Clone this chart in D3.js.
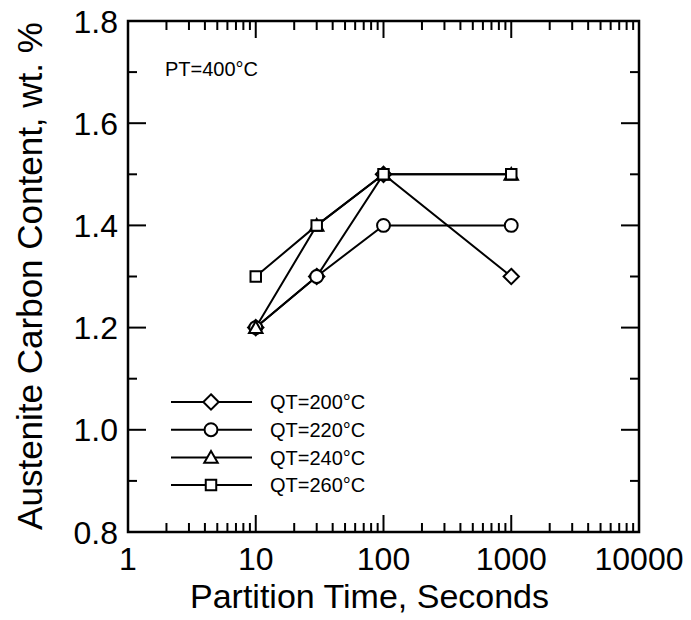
<!DOCTYPE html>
<html>
<head>
<meta charset="utf-8">
<script src="https://cdn.jsdelivr.net/npm/d3@7"></script>
<style>
body { margin: 0; background: #fff; }
text { font-family: Arial, "Liberation Sans", sans-serif; fill: #000; }
</style>
</head>
<body>
<div id="main_div"></div>
<script>
// partition times (s) and austenite carbon content (wt.%)
var times = [10, 30, 100, 1000];
var qt200 = [1.2, 1.3, 1.5, 1.3];
var qt220 = [1.2, 1.3, 1.4, 1.4];
var qt240 = [1.2, 1.4, 1.5, 1.5];
var qt260 = [1.3, 1.4, 1.5, 1.5];
var seriesNames = ["QT=200°C", "QT=220°C", "QT=240°C", "QT=260°C"];
var xTicks = [1, 10, 100, 1000, 10000];
var yTicks = [0.8, 1.0, 1.2, 1.4, 1.6, 1.8];

var series = [
    {name: seriesNames[0], vals: qt200, sym: "diamond"},
    {name: seriesNames[1], vals: qt220, sym: "circle"},
    {name: seriesNames[2], vals: qt240, sym: "triangle"},
    {name: seriesNames[3], vals: qt260, sym: "square"}
];

var L = 128, R = 639, T = 21, B = 532;
var x_scale = d3.scaleLog().domain([1, 10000]).range([L, R]);
var y_scale = d3.scaleLinear().domain([0.8, 1.8]).range([B, T]);

var svg = d3.select("#main_div").append("svg").attr("width", 691).attr("height", 620);

// minor + major ticks, all pointing inward, on all four sides
var xMinor = [];
for (var e = 0; e < 4; e++) for (var k = 2; k <= 9; k++) xMinor.push(k * Math.pow(10, e));
var yMinor = d3.range(0.9, 1.8, 0.2);

var tk = svg.append("g").attr("stroke", "#000").attr("stroke-width", 2);
xTicks.forEach(function(v) {
    tk.append("line").attr("x1", x_scale(v)).attr("x2", x_scale(v)).attr("y1", B).attr("y2", B - 17);
    tk.append("line").attr("x1", x_scale(v)).attr("x2", x_scale(v)).attr("y1", T).attr("y2", T + 17);
});
xMinor.forEach(function(v) {
    tk.append("line").attr("x1", x_scale(v)).attr("x2", x_scale(v)).attr("y1", B).attr("y2", B - 9);
    tk.append("line").attr("x1", x_scale(v)).attr("x2", x_scale(v)).attr("y1", T).attr("y2", T + 9);
});
yTicks.forEach(function(v) {
    tk.append("line").attr("x1", L).attr("x2", L + 18).attr("y1", y_scale(v)).attr("y2", y_scale(v));
    tk.append("line").attr("x1", R).attr("x2", R - 18).attr("y1", y_scale(v)).attr("y2", y_scale(v));
});
yMinor.forEach(function(v) {
    tk.append("line").attr("x1", L).attr("x2", L + 9).attr("y1", y_scale(v)).attr("y2", y_scale(v));
    tk.append("line").attr("x1", R).attr("x2", R - 9).attr("y1", y_scale(v)).attr("y2", y_scale(v));
});

svg.append("rect").attr("x", L).attr("y", T).attr("width", R - L).attr("height", B - T)
    .attr("fill", "none").attr("stroke", "#000").attr("stroke-width", 2.5);

// tick labels
svg.append("g").selectAll("text").data(xTicks).enter().append("text")
    .attr("x", function(d) { return x_scale(d); }).attr("y", 570)
    .attr("text-anchor", "middle").attr("font-size", 32)
    .text(function(d) { return d; });
svg.append("g").selectAll("text").data(yTicks).enter().append("text")
    .attr("x", 118).attr("y", function(d) { return y_scale(d); }).attr("dy", "0.36em")
    .attr("text-anchor", "end").attr("font-size", 32)
    .text(function(d) { return d.toFixed(1); });

svg.append("text").attr("x", (L + R) / 2 - 14).attr("y", 608).attr("text-anchor", "middle")
    .attr("font-size", 34).text("Partition Time, Seconds");
svg.append("text").attr("transform", "translate(42," + 276 + ") rotate(-90)")
    .attr("text-anchor", "middle").attr("font-size", 35).text("Austenite Carbon Content, wt. %");

svg.append("text").attr("x", 165).attr("y", 76).attr("font-size", 20).text("PT=400°C");

function symbolPath(sym) {
    if (sym == "diamond") return d3.symbol().type(d3.symbolDiamond2).size(150)();
    if (sym == "circle") return d3.symbol().type(d3.symbolCircle).size(130)();
    if (sym == "triangle") return d3.symbol().type(d3.symbolTriangle2).size(130)();
    return d3.symbol().type(d3.symbolSquare2).size(140)();
}

var line = d3.line()
    .x(function(d) { return x_scale(d[0]); })
    .y(function(d) { return y_scale(d[1]); });

series.forEach(function(s) {
    var pts = times.map(function(t, i) { return [t, s.vals[i]]; });
    svg.append("path").attr("d", line(pts)).attr("fill", "none")
        .attr("stroke", "#000").attr("stroke-width", 2);
});
series.forEach(function(s) {
    var pts = times.map(function(t, i) { return [t, s.vals[i]]; });
    svg.append("g").selectAll("path").data(pts).enter().append("path")
        .attr("transform", function(d) {
            var dy = s.sym == "triangle" ? 1.5 : 0;
            return "translate(" + x_scale(d[0]) + "," + (y_scale(d[1]) + dy) + ")";
        })
        .attr("d", symbolPath(s.sym))
        .attr("fill", "#fff").attr("stroke", "#000").attr("stroke-width", 2);
});

// legend
var leg = svg.append("g");
series.forEach(function(s, i) {
    var y = 402 + i * 27.7;
    leg.append("line").attr("x1", 171).attr("x2", 252).attr("y1", y).attr("y2", y)
        .attr("stroke", "#000").attr("stroke-width", 2);
    leg.append("path").attr("transform", "translate(211," + (y + (s.sym == "triangle" ? 1.5 : 0)) + ")")
        .attr("d", symbolPath(s.sym))
        .attr("fill", "#fff").attr("stroke", "#000").attr("stroke-width", 2);
    leg.append("text").attr("x", 270).attr("y", y).attr("dy", "0.36em")
        .attr("font-size", 20).text(s.name);
});
</script>
</body>
</html>
